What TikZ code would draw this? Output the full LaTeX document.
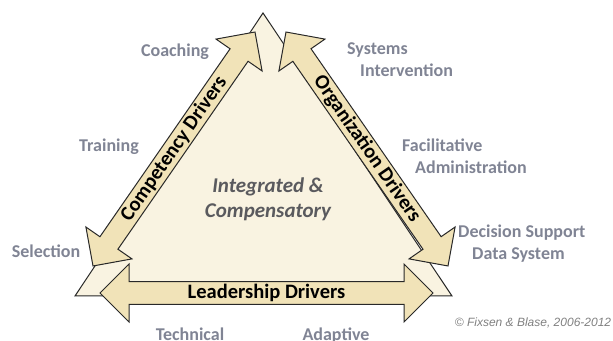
\documentclass[tikz,border=0pt]{standalone}
\usepackage{fontspec}
\setmainfont{Carlito}
\newfontfamily\copyfont{Liberation Sans}
\usetikzlibrary{shapes.arrows}

\definecolor{trifill}{RGB}{249,243,225}
\definecolor{arrowfill}{RGB}{241,227,184}
\definecolor{labelgray}{RGB}{128,132,148}
\definecolor{centregray}{RGB}{90,90,94}
\definecolor{edgegray}{RGB}{40,40,40}

\tikzset{
  driver/.style={double arrow, draw=edgegray, fill=arrowfill, line width=1pt,
    double arrow tip angle=90, double arrow head extend=14.5pt,
    double arrow head indent=0pt, minimum width=56pt,
    font=\fontsize{20.5}{24}\selectfont\bfseries},
  driverlabel/.style={text=labelgray, align=left,
    font=\fontsize{18}{22}\selectfont\bfseries}
}

\begin{document}
\begin{tikzpicture}[x=1pt,y=1pt]
    \tikzstyle{every node}+=[inner sep=0pt]
    \clip (0,0) rectangle (613,340);
    % triangle behind the drivers
    \coordinate (apex) at (263,327);
    \coordinate (botleft) at (75,44);
    \coordinate (botright) at (452,44);
    \draw [edgegray, fill=trifill, line width=1pt] (apex) -- (botleft) -- (botright) -- cycle;
    % the three drivers
    \node (competency) [driver, minimum height=284.6pt, rotate=55.3] at (174,191) {Competency Drivers};
    \node (organization) [driver, minimum height=284.6pt, rotate=-55.3] at (367,191) {Organization Drivers};
    \node (leadership) [driver, minimum height=333pt, minimum width=58pt] at (266.5,47) {Leadership Drivers};
    % centre text
    \node (centre) [align=center, text=centregray, font=\fontsize{21}{25}\selectfont\bfseries\itshape] at (268,140.5) {Integrated \&\\Compensatory};
    % components
    \node (coaching) [driverlabel] at (175,288) {Coaching};
    \node (training) [driverlabel] at (109,193) {Training};
    \node (selection) [driverlabel] at (46,89) {Selection};
    \node (systems) [driverlabel, anchor=west] at (347,280) {Systems\\\hspace{13pt}Intervention};
    \node (facilitative) [driverlabel, anchor=west] at (402,184) {Facilitative\\\hspace{13pt}Administration};
    \node (decision) [driverlabel, anchor=west] at (458,96) {Decision Support\\\hspace{14pt}Data System};
    \node (technical) [driverlabel, anchor=base] at (190,-1) {Technical};
    \node (adaptive) [driverlabel, anchor=base] at (336,-1) {Adaptive};
    \node (copyright) [text=gray, font=\copyfont\fontsize{12}{14}\selectfont\itshape] at (533,17) {\textcopyright{} Fixsen \& Blase, 2006-2012};
\end{tikzpicture}
\end{document}
